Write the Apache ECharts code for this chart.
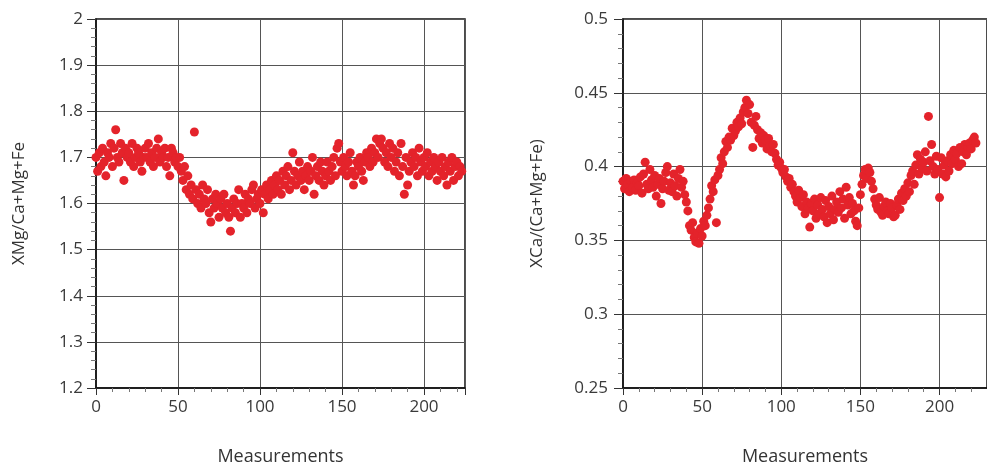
<!DOCTYPE html>
<html>
<head>
<meta charset="utf-8">
<script src="https://cdn.jsdelivr.net/npm/echarts@6/dist/echarts.min.js"></script>
<style>
  html, body { margin: 0; padding: 0; background: #fff; }
  #main { width: 987px; height: 473px; }
</style>
</head>
<body>
<div id="main"></div>
<script>
// XMg/(Ca+Mg+Fe) per measurement (index = measurement number)
const xMg = [
  1.70,1.67,1.71,1.68,1.72,1.69,1.66,1.71,1.70,1.73,
  1.68,1.72,1.76,1.70,1.69,1.73,1.71,1.65,1.72,1.70,
  1.71,1.69,1.73,1.68,1.70,1.72,1.71,1.69,1.67,1.70,
  1.72,1.70,1.73,1.69,1.71,1.68,1.70,1.72,1.74,1.69,
  1.71,1.70,1.72,1.68,1.70,1.66,1.72,1.71,1.69,1.70,
  1.68,1.70,1.67,1.65,1.68,1.63,1.66,1.62,1.64,1.61,
  1.755,1.63,1.60,1.62,1.59,1.64,1.61,1.60,1.63,1.58,
  1.56,1.61,1.59,1.62,1.60,1.57,1.61,1.59,1.62,1.58,
  1.60,1.57,1.54,1.59,1.61,1.58,1.60,1.63,1.57,1.60,
  1.59,1.62,1.58,1.61,1.60,1.63,1.64,1.59,1.61,1.62,
  1.60,1.63,1.58,1.62,1.64,1.61,1.63,1.65,1.62,1.64,
  1.66,1.63,1.65,1.62,1.67,1.64,1.66,1.68,1.63,1.65,
  1.71,1.67,1.64,1.66,1.69,1.65,1.67,1.63,1.66,1.68,
  1.65,1.67,1.70,1.62,1.66,1.68,1.65,1.69,1.67,1.64,
  1.66,1.69,1.67,1.65,1.68,1.70,1.66,1.72,1.73,1.69,
  1.67,1.70,1.68,1.66,1.69,1.71,1.67,1.64,1.66,1.69,
  1.68,1.70,1.67,1.65,1.69,1.71,1.70,1.68,1.72,1.69,
  1.71,1.74,1.70,1.73,1.74,1.72,1.69,1.71,1.68,1.73,
  1.70,1.72,1.67,1.69,1.71,1.66,1.73,1.68,1.62,1.70,
  1.64,1.67,1.69,1.71,1.68,1.70,1.66,1.72,1.69,1.67,
  1.70,1.68,1.71,1.66,1.69,1.67,1.70,1.68,1.65,1.69,
  1.67,1.70,1.66,1.68,1.64,1.69,1.67,1.70,1.65,1.68,
  1.69,1.66,1.68,1.67
];

// XCa/(Ca+Mg+Fe) per measurement
const xCa = [
  0.390,0.385,0.392,0.388,0.383,0.390,0.386,0.391,0.384,0.389,
  0.387,0.393,0.382,0.395,0.403,0.388,0.385,0.398,0.391,0.386,
  0.394,0.380,0.388,0.392,0.375,0.385,0.390,0.396,0.400,0.384,
  0.389,0.383,0.395,0.387,0.380,0.392,0.398,0.386,0.390,0.381,
  0.376,0.370,0.360,0.357,0.362,0.352,0.349,0.355,0.348,0.358,
  0.353,0.363,0.360,0.367,0.372,0.378,0.387,0.383,0.391,0.362,
  0.394,0.398,0.406,0.402,0.410,0.417,0.413,0.420,0.418,0.426,
  0.421,0.424,0.430,0.427,0.433,0.429,0.437,0.440,0.445,0.436,
  0.442,0.430,0.413,0.428,0.434,0.425,0.419,0.423,0.416,0.421,
  0.418,0.412,0.419,0.414,0.410,0.415,0.409,0.405,0.401,0.403,
  0.399,0.396,0.398,0.393,0.390,0.392,0.386,0.388,0.383,0.380,
  0.376,0.384,0.379,0.373,0.381,0.368,0.376,0.372,0.359,0.375,
  0.370,0.378,0.365,0.374,0.368,0.379,0.371,0.366,0.377,0.362,
  0.373,0.368,0.380,0.364,0.371,0.376,0.369,0.383,0.372,0.378,
  0.365,0.386,0.374,0.379,0.368,0.375,0.370,0.363,0.360,0.372,
  0.381,0.388,0.394,0.398,0.392,0.399,0.396,0.390,0.385,0.378,
  0.374,0.371,0.379,0.369,0.367,0.373,0.376,0.370,0.368,0.375,
  0.372,0.366,0.367,0.374,0.378,0.371,0.382,0.377,0.385,0.380,
  0.389,0.383,0.394,0.397,0.388,0.401,0.408,0.395,0.405,0.399,
  0.403,0.410,0.397,0.434,0.404,0.415,0.400,0.395,0.407,0.398,
  0.379,0.406,0.395,0.401,0.393,0.404,0.397,0.408,0.402,0.411,
  0.405,0.409,0.400,0.413,0.402,0.410,0.415,0.408,0.413,0.416,
  0.412,0.418,0.420,0.416
];

const xTitle = 'Measurements';
const yTitles = ['XMg/Ca+Mg+Fe', 'XCa/(Ca+Mg+Fe)'];

const FONT = 'Open Sans';
const RED = '#e4232b';

function toPoints(arr) {
  return arr.map((v, i) => [i, v]);
}

function xAxisCfg(gridIndex, max) {
  return {
    gridIndex: gridIndex,
    type: 'value',
    min: 0,
    max: max,
    interval: 50,
    name: xTitle,
    nameLocation: 'middle',
    nameGap: 60,
    nameTextStyle: { fontFamily: FONT, fontSize: 18, color: '#333' },
    axisLine: { show: true, onZero: false, lineStyle: { color: '#111', width: 1.5 } },
    axisTick: { show: true, length: 7, lineStyle: { color: '#333' } },
    minorTick: { show: true, splitNumber: 5, length: 4, lineStyle: { color: '#777' } },
    axisLabel: {
      fontFamily: FONT, fontSize: 17, color: '#3a3a3a', margin: 11,
      showMaxLabel: false
    },
    splitLine: { show: true, lineStyle: { color: '#555', width: 1 } }
  };
}

function yAxisCfg(gridIndex, min, max, interval, name, gap, labelMargin) {
  return {
    gridIndex: gridIndex,
    type: 'value',
    min: min,
    max: max,
    interval: interval,
    name: name,
    nameLocation: 'middle',
    nameGap: gap,
    nameTextStyle: { fontFamily: FONT, fontSize: 17, color: '#333' },
    axisLine: { show: true, onZero: false, lineStyle: { color: '#111', width: 1.5 } },
    axisTick: { show: true, length: 9, lineStyle: { color: '#333' } },
    minorTick: { show: true, splitNumber: 5, length: 5, lineStyle: { color: '#777' } },
    axisLabel: { fontFamily: FONT, fontSize: 17, color: '#3a3a3a', margin: labelMargin },
    splitLine: { show: true, lineStyle: { color: '#555', width: 1 } }
  };
}

const chart = echarts.init(document.getElementById('main'), null, { renderer: 'canvas' });

chart.setOption({
  backgroundColor: '#fff',
  animation: false,
  grid: [
    { left: 96, top: 19, width: 369, height: 369, show: true, borderColor: '#111', borderWidth: 1.5, backgroundColor: 'transparent' },
    { left: 623, top: 19, width: 370, height: 369, show: true, borderColor: '#111', borderWidth: 1.5, backgroundColor: 'transparent' }
  ],
  xAxis: [xAxisCfg(0, 225), xAxisCfg(1, 230)],
  yAxis: [
    yAxisCfg(0, 1.2, 2, 0.1, yTitles[0], 68, 13),
    yAxisCfg(1, 0.25, 0.5, 0.05, yTitles[1], 77, 15)
  ],
  series: [
    {
      type: 'scatter',
      xAxisIndex: 0,
      yAxisIndex: 0,
      data: toPoints(xMg),
      symbol: 'circle',
      symbolSize: 9,
      itemStyle: { color: RED, opacity: 1 }
    },
    {
      type: 'scatter',
      xAxisIndex: 1,
      yAxisIndex: 1,
      data: toPoints(xCa),
      symbol: 'circle',
      symbolSize: 9,
      itemStyle: { color: RED, opacity: 1 }
    }
  ]
});
</script>
</body>
</html>
